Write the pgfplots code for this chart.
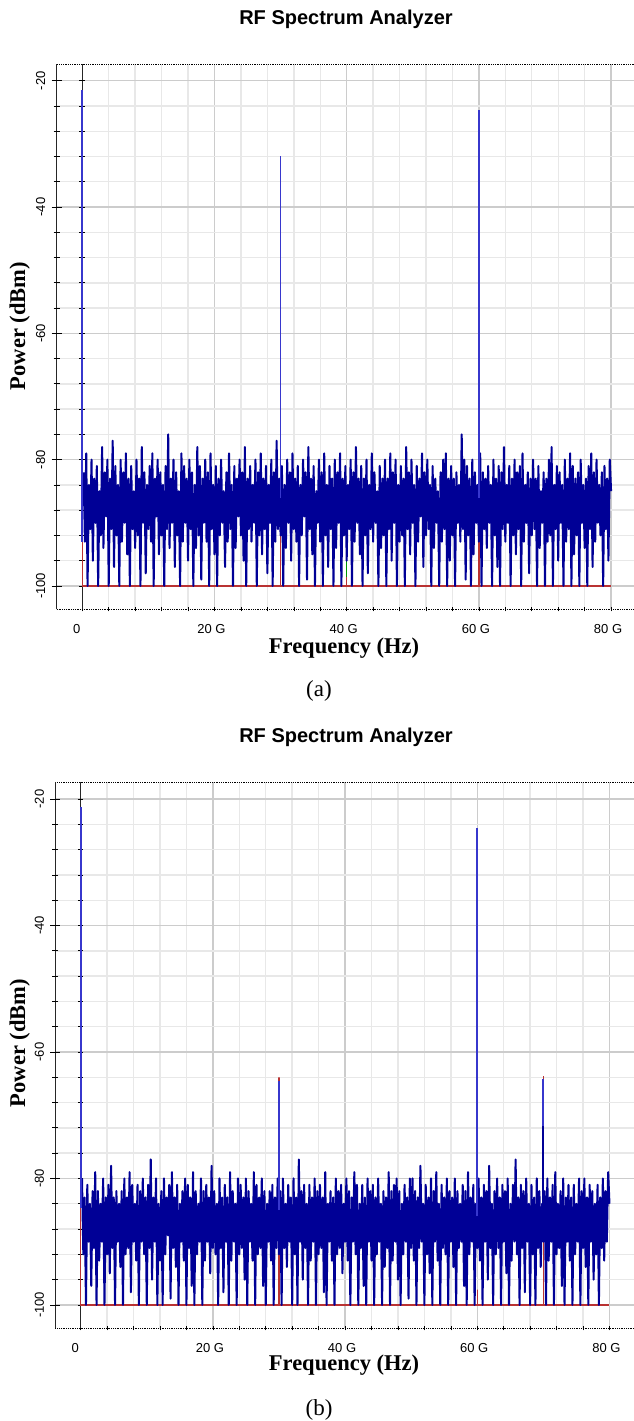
\documentclass[border=0pt]{standalone}
\usepackage{fontspec}
\setmainfont{Liberation Serif}
\newfontfamily\arialfont{Liberation Sans}[BoldFont={Liberation Sans Bold}]
\usepackage{pgfplots}
\pgfplotsset{compat=1.18}

\definecolor{navy}{RGB}{0,0,150}
\definecolor{tone}{RGB}{55,55,205}
\definecolor{dred}{RGB}{185,50,50}
\definecolor{dgreen}{RGB}{0,150,0}
\definecolor{majgrid}{RGB}{204,204,204}
\definecolor{mingrid}{RGB}{232,232,232}

\newcommand\ttlf{\fontsize{20}{24}\selectfont\arialfont\bfseries}
\newcommand\lblf{\fontsize{22.5}{26}\selectfont\bfseries}
\newcommand\capf{\fontsize{23}{26}\selectfont}
\newcommand\tlf{\fontsize{13}{15}\selectfont\arialfont}

\pgfplotsset{rf/.style={
  scale only axis, anchor=south west, clip=false,
  ymin=-103.7, ymax=-17.35,
  xtick={0,20,40,60,80}, xticklabels={{\kern-2.5pt0\kern2.5pt},20 G,40 G,60 G,80 G},
  ytick={-20,-40,-60,-80,-100}, yticklabels={-20,-40,-60,-80,-100},
  minor x tick num=4, minor y tick num=4,
  grid=both,
  major grid style={draw=majgrid, line width=1.4pt},
  minor grid style={draw=mingrid, line width=1.4pt},
  axis line style={draw=none},
  xtick pos=bottom, ytick pos=left,
  tick align=center,
  major tick length=4pt, minor tick length=4pt,
  xtick style={black, line width=0.6pt},
  ytick style={draw=none},
  ticklabel style={font=\tlf},
  xticklabel style={anchor=base, yshift=-22pt, xshift=-3pt},
  yticklabel style={xshift=-9.5pt, rotate=90, anchor=base},
  noise/.style={navy, line width=2pt, line join=round},
  tonel/.style={tone, line width=1.8pt},
  redl/.style={dred, line width=1.4pt},
}}

\begin{document}
\begin{tikzpicture}[x=1pt,y=-1pt]
\path[use as bounding box] (0,0) rectangle (633,1421);

% ---------------- panel (a) ----------------
\begin{axis}[rf, at={(56.7pt,-609.3pt)}, width=579.5pt, height=545.3pt,
  xmin=-3.87, xmax=83.8]
\draw[line width=1pt, black!85] (axis cs:0,-103.7) -- (axis cs:0,-17.35);
\pgfplotsinvokeforeach{-20,-24,-28,-32,-36,-40,-44,-48,-52,-56,-60,-64,-68,-72,-76,-80,-84,-88,-92,-96,-100}{
  \draw[line width=0.8pt] (axis cs:0,#1) ++(-2.8pt,0pt) -- ++(5.6pt,0pt);}
\addplot[dgreen, line width=1.3pt] coordinates {(40,-100)(40,-93.3)};
\addplot[redl] coordinates {(0,-100)(0,-93)(0,-100)(30,-100)(30,-91.7)(30,-100)(40,-100)(40,-98.6)(40,-100)(60,-100)(60,-93)(60,-100)(70,-100)(70,-91.4)(70,-100)(80,-100)};
\addplot[noise] coordinates {
(0.2,-82)(0.4,-93)(0.6,-79)(0.8,-100)(1,-84)(1.2,-91)(1.4,-80)(1.6,-96)(1.8,-83)(2,-90)
(2.2,-81)(2.4,-100)(2.6,-85)(2.8,-92)(3,-78)(3.2,-94)(3.4,-82)(3.6,-89)(3.8,-80)(4,-100)
(4.2,-83)(4.4,-91)(4.6,-77)(4.8,-97)(5,-81)(5.2,-92)(5.4,-84)(5.6,-100)(5.8,-80)(6,-93)
(6.2,-82)(6.4,-90)(6.6,-79)(6.8,-95)(7,-83)(7.2,-100)(7.4,-81)(7.6,-91)(7.8,-85)(8,-94)
(8.2,-80)(8.4,-92)(8.6,-83)(8.8,-100)(9,-78)(9.2,-90)(9.4,-82)(9.6,-98)(9.8,-84)(10,-91)
(10.2,-81)(10.4,-93)(10.6,-79)(10.8,-100)(11,-83)(11.2,-89)(11.4,-80)(11.6,-95)(11.8,-82)(12,-92)
(12.2,-84)(12.4,-100)(12.6,-81)(12.8,-91)(13,-76)(13.2,-94)(13.4,-83)(13.6,-90)(13.8,-80)(14,-97)
(14.2,-82)(14.4,-92)(14.6,-85)(14.8,-100)(15,-79)(15.2,-93)(15.4,-81)(15.6,-90)(15.8,-83)(16,-96)
(16.2,-80)(16.4,-91)(16.6,-82)(16.8,-100)(17,-84)(17.2,-94)(17.4,-78)(17.6,-92)(17.8,-81)(18,-99)
(18.2,-83)(18.4,-90)(18.6,-80)(18.8,-93)(19,-82)(19.2,-100)(19.4,-79)(19.6,-91)(19.8,-84)(20,-95)
(20.2,-81)(20.4,-100)(20.6,-83)(20.8,-92)(21,-80)(21.2,-90)(21.4,-85)(21.6,-97)(21.8,-82)(22,-93)
(22.2,-79)(22.4,-91)(22.6,-84)(22.8,-100)(23,-81)(23.2,-94)(23.4,-83)(23.6,-89)(23.8,-80)(24,-92)
(24.2,-82)(24.4,-96)(24.6,-78)(24.8,-100)(25,-83)(25.2,-91)(25.4,-81)(25.6,-93)(25.8,-84)(26,-90)
(26.2,-80)(26.4,-100)(26.6,-82)(26.8,-92)(27,-79)(27.2,-95)(27.4,-83)(27.6,-91)(27.8,-81)(28,-98)
(28.2,-84)(28.4,-90)(28.6,-80)(28.8,-100)(29,-82)(29.2,-93)(29.4,-77)(29.6,-91)(29.8,-83)(30,-92)
(30.2,-81)(30.4,-100)(30.6,-84)(30.8,-94)(31,-80)(31.2,-90)(31.4,-82)(31.6,-96)(31.8,-79)(32,-91)
(32.2,-83)(32.4,-93)(32.6,-81)(32.8,-100)(33,-84)(33.2,-92)(33.4,-80)(33.6,-89)(33.8,-82)(34,-99)
(34.2,-78)(34.4,-91)(34.6,-83)(34.8,-95)(35,-81)(35.2,-100)(35.4,-85)(35.6,-90)(35.8,-80)(36,-93)
(36.2,-82)(36.4,-100)(36.6,-79)(36.8,-92)(37,-84)(37.2,-97)(37.4,-81)(37.6,-91)(37.8,-83)(38,-100)
(38.2,-80)(38.4,-94)(38.6,-82)(38.8,-90)(39,-79)(39.2,-100)(39.4,-83)(39.6,-92)(39.8,-81)(40,-96)
(40.2,-84)(40.4,-91)(40.6,-80)(40.8,-100)(41,-82)(41.2,-93)(41.4,-78)(41.6,-90)(41.8,-83)(42,-95)
(42.2,-81)(42.4,-100)(42.6,-83)(42.8,-92)(43,-80)(43.2,-98)(43.4,-84)(43.6,-91)(43.8,-79)(44,-93)
(44.2,-82)(44.4,-90)(44.6,-85)(44.8,-100)(45,-81)(45.2,-94)(45.4,-83)(45.6,-92)(45.8,-80)(46,-100)
(46.2,-83)(46.4,-91)(46.6,-79)(46.8,-96)(47,-82)(47.2,-90)(47.4,-80)(47.6,-100)(47.8,-84)(48,-93)
(48.2,-81)(48.4,-92)(48.6,-83)(48.8,-100)(49,-78)(49.2,-91)(49.4,-82)(49.6,-95)(49.8,-80)(50,-90)
(50.2,-84)(50.4,-100)(50.6,-81)(50.8,-93)(51,-83)(51.2,-89)(51.4,-79)(51.6,-97)(51.8,-82)(52,-92)
(52.2,-80)(52.4,-91)(52.6,-84)(52.8,-100)(53,-81)(53.2,-94)(53.4,-83)(53.6,-90)(53.8,-85)(54,-100)
(54.2,-82)(54.4,-93)(54.6,-80)(54.8,-91)(55,-79)(55.2,-100)(55.4,-83)(55.6,-96)(55.8,-81)(56,-92)
(56.2,-83)(56.4,-100)(56.6,-82)(56.8,-90)(57,-84)(57.2,-93)(57.4,-76)(57.6,-91)(57.8,-80)(58,-99)
(58.2,-81)(58.4,-92)(58.6,-83)(58.8,-100)(59,-80)(59.2,-95)(59.4,-82)(59.6,-90)(59.8,-84)(60,-93)
(60.2,-79)(60.4,-100)(60.6,-82)(60.8,-91)(61,-83)(61.2,-94)(61.4,-81)(61.6,-90)(61.8,-84)(62,-100)
(62.2,-80)(62.4,-92)(62.6,-83)(62.8,-97)(63,-81)(63.2,-100)(63.4,-82)(63.6,-91)(63.8,-78)(64,-93)
(64.2,-84)(64.4,-90)(64.6,-81)(64.8,-100)(65,-83)(65.2,-92)(65.4,-80)(65.6,-95)(65.8,-82)(66,-91)
(66.2,-81)(66.4,-100)(66.6,-79)(66.8,-93)(67,-84)(67.2,-90)(67.4,-82)(67.6,-98)(67.8,-83)(68,-92)
(68.2,-80)(68.4,-91)(68.6,-83)(68.8,-100)(69,-81)(69.2,-94)(69.4,-85)(69.6,-90)(69.8,-82)(70,-100)
(70.2,-83)(70.4,-93)(70.6,-80)(70.8,-92)(71,-78)(71.2,-100)(71.4,-84)(71.6,-91)(71.8,-81)(72,-96)
(72.2,-82)(72.4,-90)(72.6,-84)(72.8,-100)(73,-80)(73.2,-93)(73.4,-83)(73.6,-91)(73.8,-79)(74,-100)
(74.2,-81)(74.4,-95)(74.6,-83)(74.8,-92)(75,-82)(75.2,-100)(75.4,-80)(75.6,-90)(75.8,-84)(76,-94)
(76.2,-83)(76.4,-100)(76.6,-81)(76.8,-91)(77,-79)(77.2,-97)(77.4,-82)(77.6,-93)(77.8,-80)(78,-90)
(78.2,-84)(78.4,-92)(78.6,-82)(78.8,-100)(79,-81)(79.2,-91)(79.4,-83)(79.6,-96)(79.8,-80)(80,-85)
};
% discrete tones
\addplot[tonel] coordinates {(0,-93)(0,-21.4)};
\addplot[tonel] coordinates {(30,-86)(30,-31.9)};
\addplot[tonel] coordinates {(60,-86)(60,-24.6)};
\draw[densely dotted, line width=0.8pt] (rel axis cs:0,0) -- (rel axis cs:1,0) -- (rel axis cs:1,1) -- (rel axis cs:0,1);
\draw[line width=1pt, black!85] (rel axis cs:0,0) -- (rel axis cs:0,1);
\pgfplotsinvokeforeach{-20,-40,-60,-80,-100}{
  \draw[line width=0.8pt] (axis cs:-3.87,#1) ++(-5pt,0pt) -- ++(10pt,0pt);}
\pgfplotsinvokeforeach{-24,-28,-32,-36,-44,-48,-52,-56,-64,-68,-72,-76,-84,-88,-92,-96}{
  \draw[line width=0.8pt] (axis cs:-3.87,#1) ++(-3pt,0pt) -- ++(6pt,0pt);}
\end{axis}

\node[font=\ttlf, anchor=base] at (346,24.3) {RF Spectrum Analyzer};
\node[font=\lblf, anchor=base] at (344,653.3) {Frequency (Hz)};
\node[font=\lblf, anchor=base, rotate=90] at (25,326) {Power (dBm)};
\node[font=\capf, anchor=base] at (319,696.7) {(a)};

% ---------------- panel (b) ----------------
\begin{axis}[rf, at={(55.3pt,-1328.3pt)}, width=580.6pt, height=546pt,
  xmin=-3.84, xmax=84.0]
\draw[line width=1pt, black!85] (axis cs:0,-103.7) -- (axis cs:0,-17.35);
\pgfplotsinvokeforeach{-20,-24,-28,-32,-36,-40,-44,-48,-52,-56,-60,-64,-68,-72,-76,-80,-84,-88,-92,-96,-100}{
  \draw[line width=0.8pt] (axis cs:0,#1) ++(-2.8pt,0pt) -- ++(5.6pt,0pt);}
\addplot[redl] coordinates {(0,-100)(0,-84.7)(0,-100)(30,-100)(30,-64)(30,-100)(60,-100)(60,-97.6)(60,-100)(70,-100)(70,-63.8)(70,-100)(80,-100)};
\addplot[noise] coordinates {
(0.2,-80)(0.4,-92)(0.6,-83)(0.8,-100)(1,-81)(1.2,-90)(1.4,-84)(1.6,-97)(1.8,-82)(2,-91)
(2.2,-79)(2.4,-100)(2.6,-82)(2.8,-93)(3,-84)(3.2,-90)(3.4,-80)(3.6,-100)(3.8,-83)(4,-92)
(4.2,-81)(4.4,-95)(4.6,-78)(4.8,-91)(5,-83)(5.2,-100)(5.4,-82)(5.6,-90)(5.8,-84)(6,-94)
(6.2,-82)(6.4,-100)(6.6,-80)(6.8,-92)(7,-83)(7.2,-91)(7.4,-79)(7.6,-98)(7.8,-81)(8,-90)
(8.2,-84)(8.4,-93)(8.6,-81)(8.8,-100)(9,-82)(9.2,-90)(9.4,-80)(9.6,-92)(9.8,-83)(10,-100)
(10.2,-81)(10.4,-91)(10.6,-77)(10.8,-96)(11,-83)(11.2,-90)(11.4,-80)(11.6,-100)(11.8,-84)(12,-93)
(12.2,-82)(12.4,-100)(12.6,-80)(12.8,-92)(13,-83)(13.2,-89)(13.4,-81)(13.6,-99)(13.8,-79)(14,-91)
(14.2,-83)(14.4,-94)(14.6,-81)(14.8,-100)(15,-84)(15.2,-90)(15.4,-82)(15.6,-93)(15.8,-80)(16,-100)
(16.2,-81)(16.4,-91)(16.6,-83)(16.8,-97)(17,-79)(17.2,-100)(17.4,-82)(17.6,-92)(17.8,-84)(18,-90)
(18.2,-80)(18.4,-100)(18.6,-82)(18.8,-93)(19,-81)(19.2,-90)(19.4,-83)(19.6,-95)(19.8,-78)(20,-91)
(20.2,-82)(20.4,-92)(20.6,-84)(20.8,-100)(21,-80)(21.2,-91)(21.4,-83)(21.6,-98)(21.8,-81)(22,-90)
(22.2,-83)(22.4,-100)(22.6,-79)(22.8,-93)(23,-82)(23.2,-90)(23.4,-84)(23.6,-100)(23.8,-80)(24,-92)
(24.2,-81)(24.4,-91)(24.6,-83)(24.8,-96)(25,-80)(25.2,-100)(25.4,-82)(25.6,-90)(25.8,-84)(26,-93)
(26.2,-79)(26.4,-100)(26.6,-81)(26.8,-92)(27,-83)(27.2,-91)(27.4,-80)(27.6,-97)(27.8,-82)(28,-100)
(28.2,-84)(28.4,-90)(28.6,-82)(28.8,-93)(29,-81)(29.2,-100)(29.4,-83)(29.6,-91)(29.8,-80)(30,-92)
(30.2,-82)(30.4,-100)(30.6,-80)(30.8,-91)(31,-84)(31.2,-94)(31.4,-81)(31.6,-90)(31.8,-83)(32,-100)
(32.2,-80)(32.4,-92)(32.6,-83)(32.8,-100)(33,-77)(33.2,-90)(33.4,-82)(33.6,-96)(33.8,-81)(34,-91)
(34.2,-84)(34.4,-100)(34.6,-81)(34.8,-93)(35,-83)(35.2,-90)(35.4,-80)(35.6,-100)(35.8,-82)(36,-92)
(36.2,-81)(36.4,-91)(36.6,-83)(36.8,-98)(37,-79)(37.2,-100)(37.4,-84)(37.6,-90)(37.8,-82)(38,-93)
(38.2,-83)(38.4,-100)(38.6,-80)(38.8,-92)(39,-82)(39.2,-91)(39.4,-81)(39.6,-95)(39.8,-84)(40,-90)
(40.2,-80)(40.4,-93)(40.6,-82)(40.8,-100)(41,-83)(41.2,-90)(41.4,-79)(41.6,-92)(41.8,-81)(42,-100)
(42.2,-84)(42.4,-91)(42.6,-81)(42.8,-97)(43,-83)(43.2,-100)(43.4,-80)(43.6,-90)(43.8,-82)(44,-93)
(44.2,-81)(44.4,-100)(44.6,-83)(44.8,-92)(45,-80)(45.2,-90)(45.4,-84)(45.6,-100)(45.8,-82)(46,-94)
(46.2,-83)(46.4,-91)(46.6,-79)(46.8,-100)(47,-82)(47.2,-93)(47.4,-81)(47.6,-90)(47.8,-80)(48,-96)
(48.2,-82)(48.4,-100)(48.6,-84)(48.8,-92)(49,-81)(49.2,-90)(49.4,-83)(49.6,-99)(49.8,-80)(50,-91)
(50.2,-80)(50.4,-93)(50.6,-82)(50.8,-100)(51,-83)(51.2,-91)(51.4,-78)(51.6,-90)(51.8,-84)(52,-100)
(52.2,-81)(52.4,-92)(52.6,-83)(52.8,-95)(53,-80)(53.2,-100)(53.4,-82)(53.6,-90)(53.8,-79)(54,-93)
(54.2,-84)(54.4,-100)(54.6,-81)(54.8,-91)(55,-83)(55.2,-92)(55.4,-80)(55.6,-100)(55.8,-82)(56,-90)
(56.2,-83)(56.4,-94)(56.6,-80)(56.8,-100)(57,-82)(57.2,-91)(57.4,-84)(57.6,-90)(57.8,-81)(58,-97)
(58.2,-82)(58.4,-100)(58.6,-79)(58.8,-92)(59,-83)(59.2,-90)(59.4,-81)(59.6,-100)(59.8,-84)(60,-91)
(60.2,-80)(60.4,-93)(60.6,-83)(60.8,-100)(61,-81)(61.2,-90)(61.4,-82)(61.6,-96)(61.8,-78)(62,-91)
(62.2,-84)(62.4,-100)(62.6,-82)(62.8,-92)(63,-80)(63.2,-91)(63.4,-83)(63.6,-100)(63.8,-81)(64,-90)
(64.2,-82)(64.4,-95)(64.6,-80)(64.8,-100)(65,-84)(65.2,-93)(65.4,-81)(65.6,-90)(65.8,-77)(66,-92)
(66.2,-83)(66.4,-100)(66.6,-81)(66.8,-91)(67,-82)(67.2,-98)(67.4,-80)(67.6,-90)(67.8,-84)(68,-100)
(68.2,-81)(68.4,-92)(68.6,-83)(68.8,-100)(69,-80)(69.2,-91)(69.4,-82)(69.6,-94)(69.8,-84)(70,-90)
(70.2,-82)(70.4,-100)(70.6,-80)(70.8,-93)(71,-83)(71.2,-90)(71.4,-81)(71.6,-100)(71.8,-79)(72,-92)
(72.2,-84)(72.4,-91)(72.6,-82)(72.8,-97)(73,-80)(73.2,-100)(73.4,-83)(73.6,-90)(73.8,-81)(74,-93)
(74.2,-83)(74.4,-100)(74.6,-81)(74.8,-92)(75,-84)(75.2,-90)(75.4,-80)(75.6,-100)(75.8,-82)(76,-91)
(76.2,-80)(76.4,-94)(76.6,-83)(76.8,-100)(77,-81)(77.2,-90)(77.4,-82)(77.6,-96)(77.8,-84)(78,-92)
(78.2,-81)(78.4,-100)(78.6,-83)(78.8,-91)(79,-80)(79.2,-93)(79.4,-82)(79.6,-90)(79.8,-79)(80,-84)
};
% discrete tones
\addplot[tonel] coordinates {(0,-84.7)(0,-21.3)};
\addplot[tonel] coordinates {(30,-85)(30,-64.6)};
\addplot[tonel] coordinates {(60,-86)(60,-24.5)};
\addplot[navy, line width=2pt] coordinates {(70,-88)(70,-71.7)};
\addplot[tonel] coordinates {(70,-71.7)(70,-64.3)};
\draw[densely dotted, line width=0.8pt] (rel axis cs:0,0) -- (rel axis cs:1,0) -- (rel axis cs:1,1) -- (rel axis cs:0,1);
\draw[line width=1pt, black!85] (rel axis cs:0,0) -- (rel axis cs:0,1);
\pgfplotsinvokeforeach{-20,-40,-60,-80,-100}{
  \draw[line width=0.8pt] (axis cs:-3.84,#1) ++(-5pt,0pt) -- ++(10pt,0pt);}
\pgfplotsinvokeforeach{-24,-28,-32,-36,-44,-48,-52,-56,-64,-68,-72,-76,-84,-88,-92,-96}{
  \draw[line width=0.8pt] (axis cs:-3.84,#1) ++(-3pt,0pt) -- ++(6pt,0pt);}
\end{axis}

\node[font=\ttlf, anchor=base] at (346,742.3) {RF Spectrum Analyzer};
\node[font=\lblf, anchor=base] at (344,1370) {Frequency (Hz)};
\node[font=\lblf, anchor=base, rotate=90] at (25,1043) {Power (dBm)};
\node[font=\capf, anchor=base] at (319,1415) {(b)};
\end{tikzpicture}
\end{document}
